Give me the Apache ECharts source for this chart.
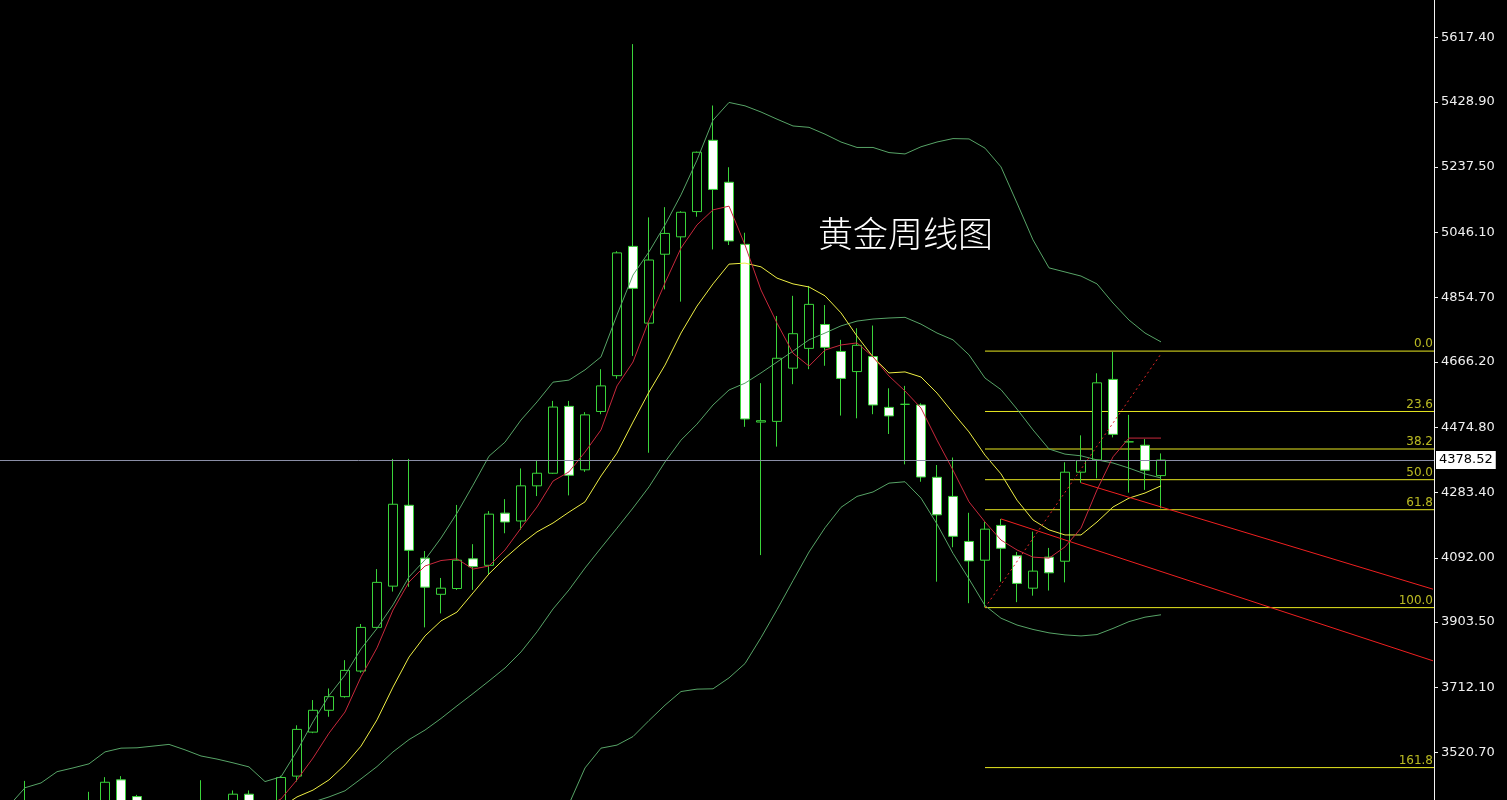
<!DOCTYPE html>
<html>
<head>
<meta charset="utf-8">
<script src="https://cdn.jsdelivr.net/npm/echarts@6/dist/echarts.min.js"></script>
<style>
html,body{margin:0;padding:0;background:#000;}
#chart{width:1507px;height:800px;}
</style>
</head>
<body>
<div id="chart"></div>
<script>
// Weekly gold candles, oldest first (one entry per week)
const openP = [3318,3240,3325,3203,3357,3289,3324,3441,3392,3274,3337,3355,3350,3337,3363,3399,3336,3371,3452,3581,3645,3685,3760,3888,4009,4246,4091,3985,4002,4089,4070,4223,4200,4303,4340,4536,4350,4521,4626,5005,4780,4982,5033,5107,5316,5193,5011,4490,4492,4648,4706,4776,4697,4638,4682,4533,4542,4540,4328,4272,4140,4085,4187,4098,4003,4094,4082,4343,4379,4615,4432,4422,4333];
const closeP = [3240,3325,3202,3357,3289,3310,3434,3368,3274,3337,3355,3350,3337,3363,3399,3336,3371,3448,3589,3645,3685,3762,3888,4020,4249,4114,4006,4003,4085,4066,4220,4197,4303,4340,4534,4334,4511,4596,4986,4882,4965,5043,5105,5281,5172,5021,4499,4494,4677,4749,4835,4709,4618,4715,4540,4508,4542,4329,4218,4155,4083,4176,4120,4017,4053,4048,4343,4377,4605,4454,4432,4349,4378.52];
const lowP = [3202,3200,3120,3200,3245,3280,3320,3340,3255,3248,3282,3310,3325,3268,3350,3330,3311,3352,3436,3578,3626,3682,3755,3885,3993,4007,3888,3929,3998,3998,4042,4164,4174,4273,4338,4275,4344,4513,4617,4684,4400,4879,4843,5092,4996,5009,4476,4100,4418,4601,4645,4655,4509,4501,4513,4455,4366,4315,4022,4123,3959,3947,4022,3962,3981,3996,4020,4312,4325,4445,4283,4291,4237];
const highP = [3368,3438,3330,3366,3368,3406,3449,3452,3397,3365,3375,3377,3440,3363,3410,3410,3379,3453,3601,3675,3709,3792,3898,4059,4382,4382,4112,4033,4247,4132,4229,4264,4354,4377,4552,4552,4519,4645,4991,5598,5090,5120,5108,5283,5418,5237,5045,4604,4801,4860,4889,4833,4731,4765,4773,4589,4596,4545,4364,4386,4224,4197,4206,4109,4169,4121,4372,4451,4633,4696,4511,4440,4398];

// Indicator lines
const ma5 = [3300,3290,3270,3280,3285,3300,3320,3345,3335,3345,3350,3325,3345,3350,3350,3357,3362,3385,3441,3505,3578,3640,3743,3828,3939,4021,4068,4084,4089,4059,4068,4115,4179,4241,4317,4344,4402,4467,4596,4666,4789,4898,5000,5068,5112,5123,5009,4877,4780,4692,4654,4701,4716,4722,4681,4625,4581,4531,4437,4349,4256,4197,4144,4115,4094,4091,4124,4179,4291,4388,4443,4443,4443];
const ma10 = [3270,3275,3280,3285,3290,3295,3300,3310,3315,3320,3330,3340,3340,3345,3345,3350,3355,3360,3391,3411,3441,3485,3540,3617,3713,3801,3863,3907,3933,3989,4045,4091,4132,4168,4194,4226,4256,4332,4399,4490,4578,4657,4751,4830,4895,4953,4956,4945,4912,4895,4886,4860,4810,4742,4681,4634,4637,4622,4575,4517,4461,4393,4338,4261,4203,4174,4159,4159,4197,4241,4267,4282,4303];
const bollUpper = [3365,3418,3432,3465,3476,3488,3523,3534,3535,3540,3545,3529,3511,3502,3491,3479,3436,3450,3526,3611,3688,3748,3825,3885,3954,4036,4086,4150,4223,4305,4390,4431,4496,4549,4607,4613,4643,4681,4804,4921,4989,5068,5156,5258,5375,5427,5417,5399,5378,5358,5354,5334,5311,5295,5295,5280,5276,5297,5311,5321,5320,5293,5238,5132,5024,4942,4930,4918,4895,4839,4789,4751,4725];
const bollMid = [3250,3260,3265,3270,3275,3280,3290,3300,3305,3310,3320,3325,3330,3335,3340,3345,3350,3355,3365,3376,3391,3409,3444,3480,3523,3559,3587,3621,3658,3694,3731,3769,3816,3875,3942,3998,4062,4121,4179,4238,4300,4373,4437,4484,4540,4584,4604,4634,4666,4698,4731,4751,4772,4786,4792,4795,4797,4777,4751,4731,4687,4619,4585,4528,4467,4411,4396,4391,4379,4370,4355,4338,4326];
const bollLower = [3120,3130,3140,3150,3160,3170,3180,3190,3200,3210,3220,3230,3240,3250,3260,3270,3270,3260,3230,3200,3170,3150,3130,3110,3100,3100,3110,3120,3140,3160,3180,3200,3230,3260,3300,3370,3476,3534,3543,3568,3615,3660,3700,3707,3708,3740,3782,3858,3940,4025,4109,4180,4240,4272,4285,4311,4315,4267,4191,4105,4030,3952,3915,3895,3882,3872,3866,3863,3867,3885,3905,3918,3925];

// Axis tick labels (right price scale)
const yTicks = [5617.40,5428.90,5237.50,5046.10,4854.70,4666.20,4474.80,4283.40,4092.00,3903.50,3712.10,3520.70];

// Fibonacci retracement
const fibLabels = ['0.0','23.6','38.2','50.0','61.8','100.0','161.8'];
const fibValues = [4698,4521,4411,4321,4233,3946,3477];
const fibStartWeek = 61;
const fibSwing = [[61,3946],[72,4690]];

// Trend lines [week, price]
const trendLines = [
  [[62,4206],[89,3790]],
  [[67,4312],[89,4000]]
];
const lastPrice = 4378.52;
const titleText = '黄金周线图';

const X_MIN = -0.5625, X_MAX = 89.0625;
const candleData = openP.map((o,i)=>[i,o,closeP[i],lowP[i],highP[i]]);
const toXY = arr => arr.map((v,i)=>[i,v]);

const GREEN = '#3ad43a';
const FIB = '#e8e820';
const markData = [];
markData.push([
  {coord:fibSwing[0], lineStyle:{color:'#e02828',width:1,type:[2,3]}, label:{show:false}},
  {coord:fibSwing[1]}
]);
trendLines.forEach(t=>{
  markData.push([
    {coord:t[0], lineStyle:{color:'#f02020',width:1,type:'solid'}, label:{show:false}},
    {coord:t[1]}
  ]);
});
markData.push([
  {coord:[X_MIN,lastPrice], lineStyle:{color:'#8a8ea6',width:1,type:'solid'},
   label:{show:true,position:'end',formatter:lastPrice.toFixed(2),color:'#000',backgroundColor:'#fff',
          fontSize:13,fontFamily:'DejaVu Sans',padding:[3,3,2,3],distance:2}},
  {coord:[X_MAX,lastPrice]}
]);

const lineSeries = (name,data,color,z)=>({
  name, type:'line', data:toXY(data), showSymbol:false, symbol:'none', silent:true,
  lineStyle:{color,width:1}, z, clip:true, animation:false
});

const fibSeries = fibValues.map((v,idx)=>({
  name:'FIB'+fibLabels[idx], type:'line', data:[[fibStartWeek,v],[X_MAX,v]],
  showSymbol:false, symbol:'none', silent:true, clip:false, z:1, animation:false,
  lineStyle:{color:FIB,width:1,type:'solid'}
}));
const fibLabelSeries = {
  name:'FIBLABEL', type:'scatter', silent:true, clip:false, z:5, animation:false,
  symbol:'rect', symbolSize:[0.01,0.01], itemStyle:{color:'rgba(0,0,0,0)'},
  data: fibValues.map((v,idx)=>({value:[X_MAX,v], name:fibLabels[idx]})),
  label:{show:true,position:'left',distance:1,offset:[0,-7],formatter:p=>p.name,
         color:'#e6e62a',fontSize:12,fontFamily:'DejaVu Sans'}
};

const chart = echarts.init(document.getElementById('chart'), null, {renderer:'canvas'});
chart.setOption({
  backgroundColor:'#000',
  animation:false,
  title:{text:titleText,left:813,top:211,textStyle:{color:'#ffffff',fontSize:35,fontWeight:300,fontFamily:'Noto Sans CJK SC'}},
  grid:{left:0,right:73,top:0,bottom:0,containLabel:false},
  xAxis:{type:'value',min:X_MIN,max:X_MAX,show:false,splitLine:{show:false}},
  yAxis:{
    type:'value',position:'right',min:3382,max:5727.3,
    splitLine:{show:false},
    axisLine:{show:true,onZero:false,lineStyle:{color:'#f2f2f2',width:1}},
    axisTick:{show:true,length:4,lineStyle:{color:'#f2f2f2'},customValues:yTicks},
    axisLabel:{show:true,color:'#f0f0f0',fontSize:13,fontFamily:'DejaVu Sans',margin:7,customValues:yTicks,
               formatter:v=>Number(v).toFixed(2)}
  },
  series:[
    ...fibSeries,
    {
      type:'candlestick', data:candleData, encode:{x:0,y:[1,2,3,4]}, barWidth:10, silent:true, clip:true, z:2,
      itemStyle:{color:'#000',color0:'#ffffff',borderColor:GREEN,borderColor0:GREEN,borderColorDoji:GREEN,borderWidth:1},
      markLine:{symbol:['none','none'],silent:true,animation:false,data:markData}
    },
    lineSeries('UPPER',bollUpper,'#57a467',3),
    lineSeries('MID',bollMid,'#57a467',3),
    lineSeries('LOWER',bollLower,'#57a467',3),
    lineSeries('MA10',ma10,'#eeee44',4),
    lineSeries('MA5',ma5,'#c8283c',4),
    fibLabelSeries
  ]
});
</script>
</body>
</html>
